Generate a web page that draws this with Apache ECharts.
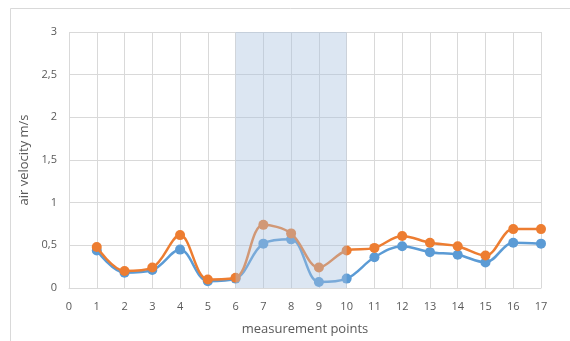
<!DOCTYPE html>
<html>
<head>
<meta charset="utf-8">
<script src="https://cdn.jsdelivr.net/npm/echarts@6/dist/echarts.min.js"></script>
<style>
  html, body { margin: 0; padding: 0; background: #fff; }
  #chart { width: 570px; height: 341px; }
</style>
</head>
<body>
<div id="chart"></div>
<script>
// measurement points 1..17
const points = [1, 2, 3, 4, 5, 6, 7, 8, 9, 10, 11, 12, 13, 14, 15, 16, 17];
// air velocity, m/s
const seriesBlue = [0.44, 0.18, 0.21, 0.45, 0.08, 0.11, 0.52, 0.57, 0.07, 0.11, 0.36, 0.49, 0.42, 0.39, 0.30, 0.53, 0.52];
const seriesOrange = [0.48, 0.20, 0.24, 0.62, 0.10, 0.12, 0.74, 0.64, 0.24, 0.44, 0.47, 0.61, 0.53, 0.49, 0.38, 0.69, 0.69];
// highlighted range of measurement points
const shadedRange = [6, 10];

const font = 'Open Sans, Noto Sans, sans-serif';
const pairs = vals => points.map((p, i) => [p, vals[i]]);

const chart = echarts.init(document.getElementById('chart'), null, { renderer: 'canvas' });
chart.setOption({
  animation: false,
  backgroundColor: '#fff',
  graphic: [{
    type: 'rect',
    shape: { x: 10.5, y: 8.5, width: 600, height: 400 },
    style: { fill: 'none', stroke: '#d9d9d9', lineWidth: 1 },
    silent: true
  }],
  grid: { left: 69, right: 29, top: 32, bottom: 53, outerBoundsMode: 'none' },
  xAxis: {
    type: 'value', min: 0, max: 17, interval: 1,
    name: 'measurement points', nameLocation: 'middle', nameGap: 35,
    nameTextStyle: { color: '#595959', fontSize: 13, fontFamily: font },
    axisLine: { show: true, lineStyle: { color: '#d9d9d9', width: 1 } },
    axisTick: { show: false },
    axisLabel: { color: '#595959', fontSize: 11, fontFamily: font, margin: 13 },
    splitLine: { show: true, lineStyle: { color: '#d9d9d9', width: 1 } }
  },
  yAxis: {
    type: 'value', min: 0, max: 3, interval: 0.5,
    name: 'air velocity m/s', nameLocation: 'middle', nameGap: 31,
    nameTextStyle: { color: '#595959', fontSize: 13, fontFamily: font },
    axisLine: { show: false },
    axisTick: { show: false },
    axisLabel: {
      color: '#595959', fontSize: 11, fontFamily: font, margin: 12,
      formatter: v => String(v).replace('.', ',')
    },
    splitLine: { show: true, lineStyle: { color: '#d9d9d9', width: 1 } }
  },
  series: [
    {
      type: 'line', data: pairs(seriesBlue), smooth: 0.35,
      symbol: 'circle', symbolSize: 10,
      lineStyle: { color: '#5b9bd5', width: 2.5 },
      itemStyle: { color: '#5b9bd5' },
      z: 2
    },
    {
      type: 'line', data: pairs(seriesOrange), smooth: 0.35,
      symbol: 'circle', symbolSize: 10,
      lineStyle: { color: '#ed7d31', width: 2.5 },
      itemStyle: { color: '#ed7d31' },
      z: 3
    },
    {
      type: 'line', data: [], z: 10, silent: true,
      markArea: {
        silent: true, z: 10,
        itemStyle: { color: 'rgba(167,192,222,0.4)' },
        data: [[{ xAxis: shadedRange[0] }, { xAxis: shadedRange[1] }]]
      }
    }
  ]
});
</script>
</body>
</html>
